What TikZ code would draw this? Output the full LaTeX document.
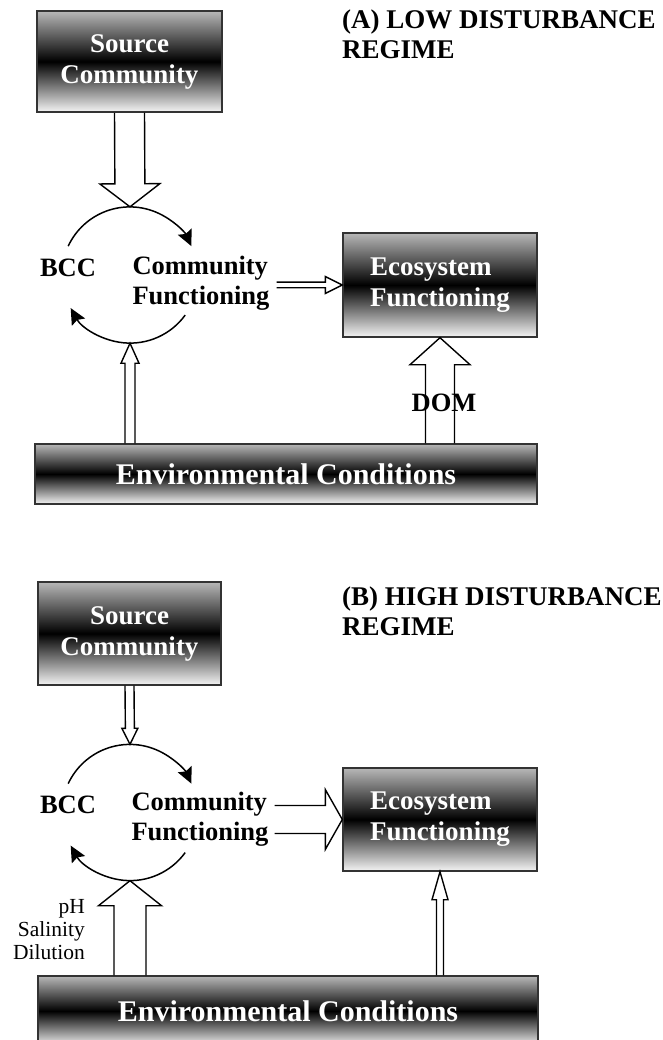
\documentclass[tikz,border=0pt]{standalone}
\usepackage{fontspec}
\setmainfont{Liberation Serif}
\usetikzlibrary{arrows.meta, positioning, calc}

% hollow block arrow: start, tip, half shaft, half head, head length
\newcommand{\blockarrow}[5]{%
    \coordinate (ah) at ($(#2)!#5!(#1)$);
    \draw[hollow] ($(#1)!#3!-90:(#2)$) -- ($(ah)!#3!-90:(#2)$) -- ($(ah)!#4!-90:(#2)$) -- (#2)
        -- ($(ah)!#4!90:(#2)$) -- ($(ah)!#3!90:(#2)$) -- ($(#1)!#3!90:(#2)$);
}

\begin{document}
\begin{tikzpicture}[x=1pt, y=1pt,
        gradbox/.style={draw=black!80, line width=1.4pt, top color=black!28, bottom color=black!4, middle color=black, text=white, inner sep=0pt, font=\bfseries\fontsize{27}{31}\selectfont},
        label/.style={inner sep=0pt, font=\bfseries\fontsize{26.5}{30}\selectfont},
        title/.style={anchor=north west, align=left, inner sep=0pt, font=\bfseries\fontsize{27}{30}\selectfont},
        cycle/.style={circle, minimum size=136pt, inner sep=0pt},
        turn/.style={line width=1.5pt, -{Stealth[length=16pt, width=15pt, inset=2.5pt]}},
        hollow/.style={draw, line width=1.4pt}
    ]
    \useasboundingbox (0,0) rectangle (663,-1040);

    % (A) low disturbance
    \node[title] (titleA) at (342,-10) {(A) LOW DISTURBANCE\\REGIME};
    \node[gradbox, align=center, minimum width=185pt, minimum height=101pt] (srcA) at (129.5,-61.5) {Source\\Community};
    \node[gradbox, align=left, minimum width=194pt, minimum height=104pt] (ecoA) at (440,-285) {Ecosystem\\Functioning};
    \node[gradbox, minimum width=502pt, minimum height=60pt, font=\bfseries\fontsize{30}{31}\selectfont] (envA) at (286,-474) {Environmental Conditions};
    \node[cycle] (cycA) at (130,-275) {};
    \node[label, align=left] (cfA) at (201,-283) {Community\\Functioning};
    \node[label] (bccA) at (68,-268) {BCC};
    \node[label] (domA) at (444,-403) {DOM};
    \coordinate (cfAout) at ([xshift=7pt]cfA.east |- ecoA.west);

    \draw[turn] (cycA.155) arc[start angle=155, end angle=25, radius=68pt];
    \draw[turn] (cycA.-36) arc[start angle=-36, end angle=-151, radius=68pt];

    \blockarrow{srcA.south}{cycA.north}{15pt}{30pt}{23pt}
    \blockarrow{cfAout}{ecoA.west}{2.8pt}{8.5pt}{17pt}
    \blockarrow{envA.north -| cycA.south}{cycA.south}{5pt}{9pt}{20pt}
    \blockarrow{envA.north -| ecoA.south}{ecoA.south}{14.5pt}{30pt}{27pt}

    % (B) high disturbance
    \node[title] (titleB) at (342,-587) {(B) HIGH DISTURBANCE\\REGIME};
    \node[gradbox, align=center, minimum width=183pt, minimum height=103pt] (srcB) at (129.5,-633.5) {Source\\Community};
    \node[gradbox, align=left, minimum width=194pt, minimum height=103pt] (ecoB) at (440,-819.5) {Ecosystem\\Functioning};
    \node[gradbox, minimum width=500pt, minimum height=70pt, font=\bfseries\fontsize{30}{31}\selectfont] (envB) at (288,-1011) {Environmental Conditions};
    \node[cycle] (cycB) at (130,-812.5) {};
    \node[label, align=left] (cfB) at (200,-819) {Community\\Functioning};
    \node[label] (bccB) at (68,-805) {BCC};
    \node[anchor=east, align=right, inner sep=0pt, font=\fontsize{21.5}{23}\selectfont] (drivB) at (85,-930) {pH\\Salinity\\Dilution};
    \coordinate (cfBout) at ([xshift=6pt]cfB.east |- ecoB.west);

    \draw[turn] (cycB.155) arc[start angle=155, end angle=25, radius=68pt];
    \draw[turn] (cycB.-36) arc[start angle=-36, end angle=-151, radius=68pt];

    \blockarrow{srcB.south}{cycB.north}{4.5pt}{8pt}{16pt}
    \blockarrow{cfBout}{ecoB.west}{14pt}{30pt}{17pt}
    \blockarrow{envB.north -| cycB.south}{cycB.south}{16pt}{31.5pt}{25pt}
    \blockarrow{envB.north -| ecoB.south}{ecoB.south}{3.5pt}{8pt}{28pt}

\end{tikzpicture}
\end{document}
